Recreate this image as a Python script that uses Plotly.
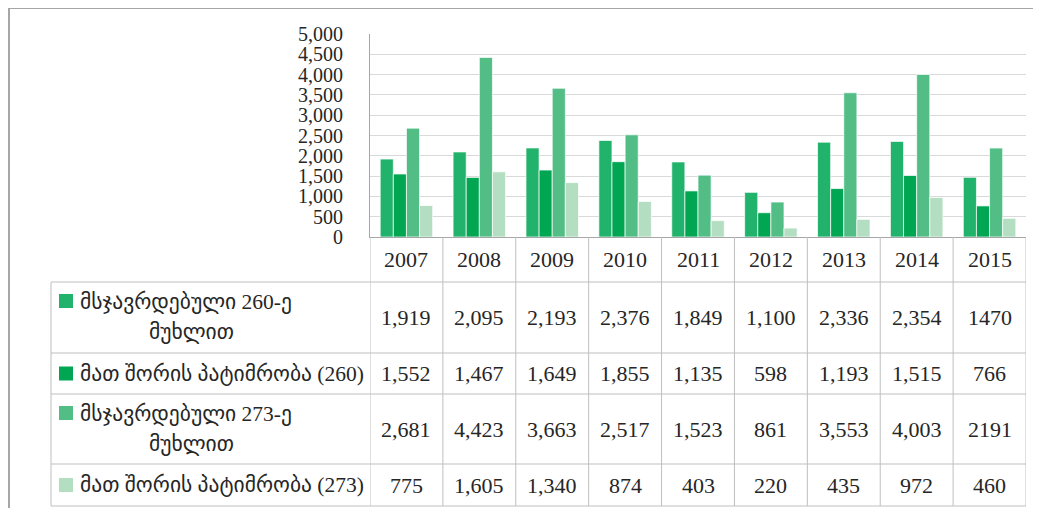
import plotly.graph_objects as go

# the page body keeps its default 8px margin, so the figure is sized to fit
OFF = 8
W, H = 1041 - 2 * OFF, 516 - 2 * OFF

years = ["2007", "2008", "2009", "2010", "2011", "2012", "2013", "2014", "2015"]

convicted_260 = [1919, 2095, 2193, 2376, 1849, 1100, 2336, 2354, 1470]
prison_260 = [1552, 1467, 1649, 1855, 1135, 598, 1193, 1515, 766]
convicted_273 = [2681, 4423, 3663, 2517, 1523, 861, 3553, 4003, 2191]
prison_273 = [775, 1605, 1340, 874, 403, 220, 435, 972, 460]

series_names = [
    "მსჯავრდებული 260-ე<br>მუხლით",
    "მათ შორის პატიმრობა (260)",
    "მსჯავრდებული 273-ე<br>მუხლით",
    "მათ შორის პატიმრობა (273)",
]
series_values = [convicted_260, prison_260, convicted_273, prison_273]
colors = ["#21B26B", "#00A651", "#52BE85", "#B4DEC1"]

SERIF = "Liberation Serif, Times New Roman, serif"
GEO = "Liberation Serif, DejaVu Sans, sans-serif"
TXT = "#262626"
GRID = "#D9D9D9"
LINE = "#BFBFBF"


def px(x):
    # screen pixel -> paper fraction
    return (x - OFF) / W


def py(y):
    return 1 - (y - OFF) / H


# table geometry (screen pixels)
table_left = 51
plot_left, plot_right = 370, 1026
row_edges = [237, 282, 353, 394, 464, 506]

fig = go.Figure()
for name, vals, col in zip(series_names, series_values, colors):
    fig.add_trace(go.Bar(
        x=years, y=vals, name=name.replace("<br>", " "),
        marker=dict(color=col, line=dict(color="rgba(255,255,255,0.7)", width=1)),
    ))

shapes = []
# outer frame (left and top)
shapes.append(dict(type="line", xref="paper", yref="paper", x0=px(8), x1=px(1045),
                   y0=py(8), y1=py(8), line=dict(color="#A6A6A6", width=2)))
shapes.append(dict(type="line", xref="paper", yref="paper", x0=px(9), x1=px(9),
                   y0=py(7), y1=py(520), line=dict(color="#A6A6A6", width=2)))

# horizontal table lines
for yy in row_edges[1:]:
    shapes.append(dict(type="line", xref="paper", yref="paper",
                       x0=px(table_left), x1=px(plot_right), y0=py(yy), y1=py(yy),
                       line=dict(color=LINE, width=1)))
# vertical table lines at category boundaries
for k in range(len(years) + 1):
    shapes.append(dict(type="line", xref="x", yref="paper", x0=k - 0.5, x1=k - 0.5,
                       y0=py(row_edges[0]), y1=py(row_edges[-1]),
                       line=dict(color=LINE, width=1)))
shapes.append(dict(type="line", xref="paper", yref="paper", x0=px(table_left), x1=px(table_left),
                   y0=py(row_edges[1]), y1=py(row_edges[-1]), line=dict(color=LINE, width=1)))

annotations = []
# year header row
for i, yr in enumerate(years):
    annotations.append(dict(x=i, xref="x", y=py((row_edges[0] + row_edges[1]) / 2), yref="paper",
                            text=yr, showarrow=False, xanchor="center", yanchor="middle",
                            font=dict(family=SERIF, size=22, color=TXT)))

# data rows
for r, (name, vals, col) in enumerate(zip(series_names, series_values, colors)):
    top, bot = row_edges[r + 1], row_edges[r + 2]
    mid = (top + bot) / 2
    for i, (yr, v) in enumerate(zip(years, vals)):
        label = str(v) if yr == "2015" else f"{v:,}"
        annotations.append(dict(x=i, xref="x", y=py(mid), yref="paper", text=label,
                                showarrow=False, xanchor="center", yanchor="middle",
                                font=dict(family=SERIF, size=22, color=TXT)))
    if "<br>" in name:
        l1, l2 = name.split("<br>")
        key_y = top + 19
        annotations.append(dict(x=px(78), xref="paper", y=py(top + 20), yref="paper", text=l1,
                                showarrow=False, xanchor="left", yanchor="middle",
                                font=dict(family=GEO, size=21.5, color=TXT)))
        annotations.append(dict(x=px(191), xref="paper", y=py(top + 50), yref="paper", text=l2,
                                showarrow=False, xanchor="center", yanchor="middle",
                                font=dict(family=GEO, size=21.5, color=TXT)))
    else:
        key_y = mid
        annotations.append(dict(x=px(78), xref="paper", y=py(mid), yref="paper", text=name,
                                showarrow=False, xanchor="left", yanchor="middle",
                                font=dict(family=GEO, size=21.5, color=TXT)))
    shapes.append(dict(type="rect", xref="paper", yref="paper", x0=px(59), x1=px(73),
                       y0=py(key_y - 7), y1=py(key_y + 7), fillcolor=col, line=dict(width=0)))

fig.update_layout(
    width=W, height=H,
    margin=dict(l=0, r=0, t=0, b=0, autoexpand=False),
    paper_bgcolor="white", plot_bgcolor="white",
    barmode="group", bargap=0.28, bargroupgap=0,
    showlegend=False,
    shapes=shapes, annotations=annotations,
    xaxis=dict(domain=[px(plot_left), px(plot_right)], type="category", range=[-0.5, 8.5],
               showticklabels=False, showgrid=False, showline=True, linecolor="#A6A6A6",
               linewidth=1, ticks="", zeroline=False, automargin=False),
    yaxis=dict(domain=[py(237), py(34)], range=[0, 5000], dtick=500, tickformat=",",
               showgrid=True, gridcolor=GRID, gridwidth=1, zeroline=False,
               showline=True, linecolor="#A6A6A6", linewidth=1, ticks="",
               ticklabelstandoff=22, automargin=False,
               tickfont=dict(family=SERIF, size=20, color=TXT)),
)

fig.write_html("out.html")
